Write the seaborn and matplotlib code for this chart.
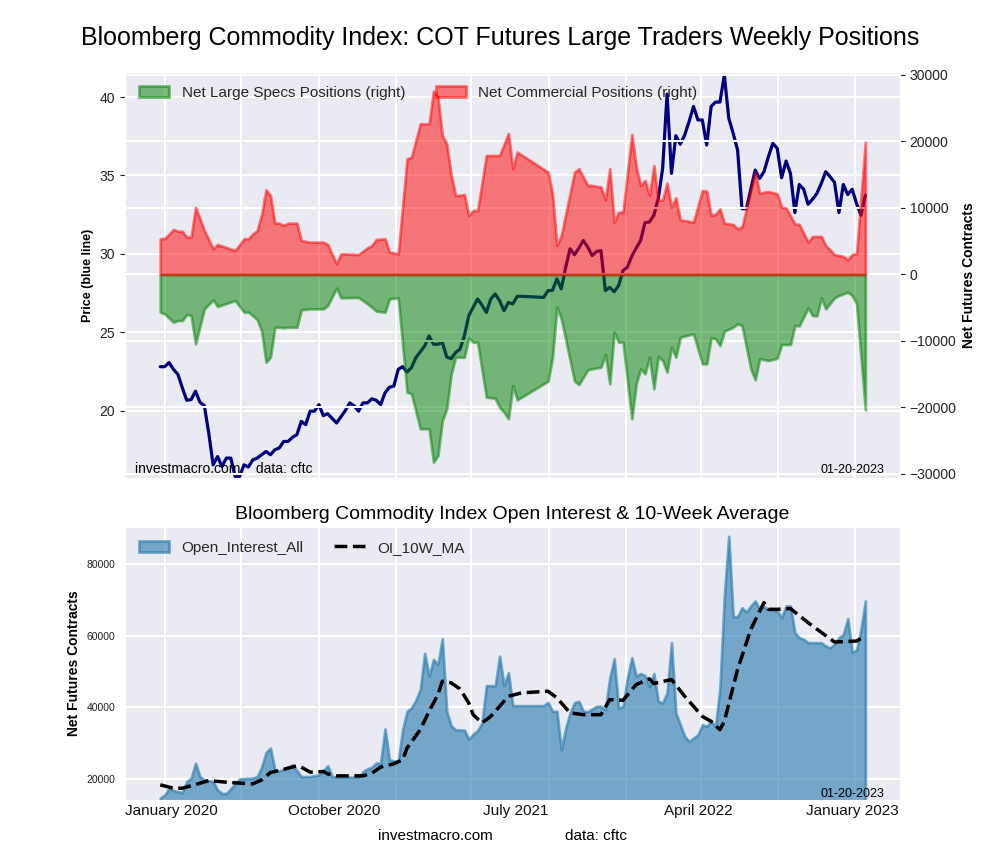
import numpy as np
import pandas as pd
import matplotlib.pyplot as plt
import matplotlib.ticker as mticker
import seaborn as sns

# weekly report dates, counted in weeks from 2019-12-24
start = pd.Timestamp("2019-12-24")

# -------------------------------------------------------
# data
# -------------------------------------------------------
price_weeks = [0, 1, 2, 3, 4, 5, 6, 7, 8, 9, 10, 11, 12, 13, 14, 15, 16, 17, 18, 19, 20, 21, 22, 24, 25,
               26, 27, 28, 29, 30, 31, 32, 33, 34, 35, 36, 37, 38, 40, 41, 42, 43, 44, 45, 46, 47, 48, 49,
               50, 51, 52, 53, 54, 55, 56, 57, 58, 60, 61, 62, 63, 64, 65, 66, 67, 68, 69, 70, 71, 72, 73,
               74, 75, 76, 77, 78, 79, 80, 81, 82, 87, 88, 89, 90, 91, 92, 93, 94, 95, 96, 97, 98, 99, 100,
               101, 102, 103, 104, 105, 106, 107, 108, 109, 110, 111, 112, 113, 114, 115, 116, 117, 118,
               119, 120, 121, 122, 123, 124, 125, 126, 127, 128, 129, 130, 131, 132, 133, 134, 135, 136,
               137, 138, 139, 140, 141, 142, 143, 144, 145, 146, 147, 148, 149, 150, 151, 152, 153, 154,
               155, 156, 157, 158, 159, 160]
price = [22.80, 22.80, 23.06, 22.63, 22.31, 21.46, 20.66, 20.70, 21.24, 20.53, 20.32, 18.57, 16.54, 17.07,
         16.43, 16.97, 16.97, 15.79, 15.79, 16.54, 16.40, 16.86, 16.97, 17.39, 17.18, 17.50, 17.61, 18.03,
         18.03, 18.30, 18.46, 19.31, 19.10, 19.96, 19.96, 20.38, 19.68, 19.80, 19.21, 19.60, 20.00, 20.49,
         20.30, 19.96, 20.49, 20.49, 20.75, 20.66, 20.38, 21.13, 21.49, 21.56, 22.63, 22.80, 22.46, 22.74,
         23.38, 24.12, 24.76, 24.23, 24.23, 24.36, 23.42, 23.31, 23.70, 23.91, 24.76, 26.05, 26.58, 27.12,
         26.73, 26.26, 27.12, 27.44, 27.01, 26.37, 26.90, 26.80, 27.29, 27.29, 27.22, 27.65, 27.67, 28.40,
         27.76, 29.15, 30.32, 29.94, 30.37, 30.85, 30.43, 29.89, 30.15, 30.21, 27.65, 27.86, 27.58, 27.97,
         28.93, 29.15, 29.85, 30.37, 30.85, 31.99, 32.03, 32.46, 33.53, 35.45, 40.19, 35.13, 37.54, 36.99,
         37.58, 38.44, 39.40, 38.54, 38.54, 36.94, 39.40, 39.68, 39.68, 41.39, 38.65, 37.69, 36.62, 32.88,
         32.88, 34.12, 35.34, 34.81, 35.24, 36.20, 37.05, 36.73, 34.85, 35.92, 35.13, 32.63, 34.42, 34.12,
         33.16, 33.48, 33.85, 34.49, 35.24, 34.92, 34.55, 32.63, 34.42, 33.78, 34.12, 33.21, 32.46, 33.74]

spec_weeks = [0, 1, 3, 4, 5, 6, 7, 8, 10, 12, 13, 17, 19, 20, 21, 22, 23, 24, 25, 26, 27, 28, 29, 31, 32,
              34, 37, 38, 40, 41, 45, 47, 48, 49, 51, 52, 54, 56, 57, 59, 61, 62, 63, 64, 65, 66, 67, 68,
              69, 70, 71, 72, 74, 76, 77, 78, 79, 80, 81, 88, 89, 90, 91, 94, 95, 97, 98, 100, 101, 102,
              103, 104, 105, 107, 108, 109, 110, 111, 112, 113, 114, 115, 116, 117, 118, 121, 123, 124,
              125, 126, 127, 128, 130, 131, 132, 134, 135, 136, 138, 140, 141, 143, 144, 145, 147, 148,
              149, 150, 151, 153, 154, 156, 157, 158, 160]
spec = [-5670, -5920, -7170, -6920, -6920, -6020, -6170, -10420, -5170, -3810, -4810, -3910, -5670, -5670,
        -6200, -6800, -8500, -13190, -12440, -7920, -7920, -8020, -7920, -7920, -5320, -5170, -5170, -4660,
        -2050, -3510, -3460, -4410, -4910, -5500, -5670, -3660, -3510, -17700, -17950, -23200, -23200,
        -28230, -27220, -21960, -20200, -15000, -12440, -12440, -12440, -9520, -10180, -10180, -18450,
        -18600, -19950, -20700, -21700, -16700, -18850, -16040, -12440, -4910, -6670, -16040, -16540,
        -14340, -14180, -13940, -12030, -16440, -8670, -10180, -10180, -21700, -16440, -14190, -14940,
        -12440, -17190, -12330, -12940, -14690, -10930, -12440, -9430, -8920, -13430, -13430, -9520,
        -9670, -10680, -8530, -7920, -7420, -7670, -14190, -15840, -12680, -12940, -12590, -10530, -10530,
        -7670, -7720, -5010, -6170, -6220, -3510, -5170, -3510, -3160, -2660, -3160, -4410, -20350]

comm_weeks = [0, 1, 3, 4, 5, 6, 7, 8, 10, 12, 13, 17, 19, 20, 21, 22, 23, 24, 25, 26, 27, 28, 29, 31, 32,
              34, 37, 38, 40, 41, 45, 47, 48, 49, 51, 52, 54, 56, 57, 59, 61, 62, 63, 64, 65, 66, 67, 68,
              69, 70, 71, 72, 74, 77, 79, 80, 81, 88, 89, 90, 91, 94, 95, 97, 98, 100, 101, 102, 103, 104,
              105, 107, 108, 109, 110, 111, 112, 113, 114, 115, 116, 117, 118, 121, 123, 124, 125, 126,
              127, 128, 130, 131, 132, 135, 136, 138, 140, 141, 142, 144, 145, 147, 148, 150, 151, 153,
              155, 156, 157, 158, 160]
comm = [5370, 5400, 6770, 6520, 6500, 5620, 5620, 10120, 6620, 3860, 4510, 3610, 5370, 5370, 6100, 6600,
        9000, 12740, 11880, 7720, 7720, 7370, 7720, 7720, 5110, 4860, 4860, 4510, 1600, 3110, 3010, 4010,
        4360, 5260, 5370, 3360, 3110, 17400, 17650, 22660, 22660, 27570, 26670, 20900, 19650, 15000, 11900,
        11900, 12030, 8870, 9630, 9630, 17900, 17900, 21200, 15900, 18400, 15390, 12130, 4360, 5870, 15390,
        15900, 13390, 13390, 13140, 11230, 15900, 7870, 9370, 9370, 21060, 16140, 13390, 14140, 11880,
        16390, 11130, 11200, 13740, 10120, 11530, 8220, 7870, 12630, 12530, 8870, 9020, 9870, 7720, 7520,
        6870, 7120, 15390, 12230, 12480, 12130, 10120, 10000, 7620, 7520, 4860, 5720, 5720, 4360, 3010,
        2710, 2210, 3010, 3110, 19900]

oi_weeks = [0, 1, 2, 3, 5, 6, 7, 8, 9, 10, 12, 13, 14, 15, 17, 18, 21, 22, 23, 24, 25, 26, 27, 29, 30, 32,
            34, 36, 37, 38, 39, 40, 45, 46, 47, 48, 49, 50, 51, 52, 53, 54, 55, 56, 57, 58, 59, 60, 61, 62,
            63, 64, 65, 66, 67, 69, 70, 71, 72, 73, 74, 76, 77, 78, 79, 80, 87, 88, 89, 90, 91, 92, 93, 94,
            95, 96, 97, 99, 100, 101, 102, 103, 104, 105, 106, 107, 108, 109, 110, 111, 112, 113, 114, 115,
            116, 117, 118, 119, 120, 121, 122, 123, 124, 125, 126, 127, 128, 129, 130, 131, 132, 133, 134,
            135, 136, 137, 138, 140, 141, 142, 143, 144, 145, 146, 147, 150, 151, 152, 153, 154, 155, 156,
            157, 158, 159, 160]
oi = [14590, 15510, 17390, 16720, 16160, 19240, 20200, 24400, 20650, 19720, 19250, 16910, 15930, 15930,
      18600, 20000, 20200, 20650, 23280, 27390, 28600, 22520, 22150, 23280, 23930, 20650, 20650, 21120,
      22330, 23650, 20650, 20470, 20470, 22000, 22800, 23280, 24400, 24400, 33940, 25330, 25000, 25000,
      33750, 38880, 39830, 42000, 44970, 55060, 48700, 53380, 51980, 59180, 38880, 34870, 33750, 33610,
      31140, 32500, 33500, 35620, 46090, 46000, 54310, 46090, 49650, 40470, 40470, 41400, 38880, 38880,
      28130, 34220, 38500, 41300, 41680, 38880, 38790, 40280, 40280, 39350, 48250, 53580, 39830, 40280,
      48250, 53860, 48700, 49450, 48890, 45890, 49450, 41680, 41230, 44040, 58060, 38430, 35150, 31870,
      30460, 31420, 32340, 35150, 34690, 36070, 34690, 45440, 71140, 87800, 65350, 65350, 67820, 66650,
      68330, 69730, 67390, 68160, 67390, 66930, 65070, 68330, 68330, 60870, 59470, 59000, 58060, 58060,
      57120, 56650, 57590, 59470, 60400, 64790, 55430, 56000, 61790, 69730]

ma_weeks = [0, 3, 5, 9, 11, 16, 21, 23, 25, 27, 31, 32, 34, 37, 38, 40, 46, 48, 50, 53, 55, 56, 59, 61, 63,
            64, 66, 68, 70, 71, 73, 75, 77, 79, 82, 88, 90, 93, 96, 100, 102, 105, 108, 111, 112, 116, 119,
            123, 125, 127, 128, 131, 134, 137, 138, 140, 143, 147, 153, 158, 160]
ma = [18320, 17390, 17390, 18780, 19520, 18960, 18600, 19720, 21770, 22330, 23650, 23280, 21870, 22050,
      21400, 20840, 20840, 21590, 23280, 24210, 25330, 28610, 33750, 38880, 43560, 47290, 46840, 45150,
      41230, 37950, 35620, 37470, 40280, 43090, 44040, 44500, 42640, 38430, 37950, 37950, 42160, 41960,
      46370, 47960, 46650, 47770, 43090, 37470, 36070, 33750, 36070, 50580, 61790, 69270, 67390, 67390,
      67600, 63670, 58240, 58520, 59920]

tick_dates = ["2020-01-10", "2020-09-25", "2021-07-10", "2022-04-26", "2022-12-27"]
tick_labels = ["January 2020", "October 2020", "July 2021", "April 2022", "January 2023"]


def to_dates(weeks):
    return start + pd.to_timedelta(np.array(weeks) * 7, unit="D")


# -------------------------------------------------------
# figure
# -------------------------------------------------------
sns.set_style("darkgrid")
plt.rcParams["font.family"] = ["Liberation Sans", "DejaVu Sans"]
plt.rcParams["grid.linewidth"] = 1.5
plt.rcParams["ytick.color"] = "#222222"
plt.rcParams["xtick.color"] = "#111111"

fig = plt.figure(figsize=(10, 8.6), dpi=100)
ax = fig.add_axes([0.125, 0.4442, 0.775, 0.4721])
ax3 = fig.add_axes([0.125, 0.0698, 0.775, 0.3174], sharex=ax)

fig.text(0.5, 1 - 38 / 860, "Bloomberg Commodity Index: COT Futures Large Traders Weekly Positions",
         ha="center", va="center", fontsize=18, color="black")

# 1. Price + net positions
sns.lineplot(x=to_dates(price_weeks), y=price, ax=ax, color="navy", lw=2.3)
ax.set_ylim(15.7, 41.6)
ax.set_xlabel("")
ax.set_ylabel("Price (blue line)", fontweight="bold", fontsize=9, color="black")
ax.tick_params(axis="y", labelsize=10)
ax.tick_params(axis="x", which="both", labelbottom=False)

ax2 = ax.twinx()
ax2.fill_between(to_dates(spec_weeks), spec, 0, color="green", alpha=0.5, lw=2,
                 label="Net Large Specs Positions (right)")
ax2.fill_between(to_dates(comm_weeks), comm, 0, color="red", alpha=0.5, lw=2,
                 label="Net Commercial Positions (right)")
ax2.set_ylim(-30600, 30450)
ax2.set_yticks(range(-30000, 30001, 10000))
ax2.tick_params(axis="y", labelsize=10)
ax2.set_ylabel("Net Futures Contracts", fontweight="bold", fontsize=10, color="black")
ax2.legend(loc="upper left", ncol=2, frameon=False, fontsize=11)

ax.text(0.013, 0.012, "investmacro.com    data: cftc", transform=ax.transAxes, fontsize=10, color="black")
ax.text(0.98, 0.012, "01-20-2023", transform=ax.transAxes, fontsize=9, ha="right", color="black")

# 2. Open interest
ax3.fill_between(to_dates(oi_weeks), oi, 0, color="#2479ad", alpha=0.6, lw=2,
                 label="Open_Interest_All")
sns.lineplot(x=to_dates(ma_weeks), y=ma, ax=ax3, color="black", linestyle="--", lw=2.5,
             label="OI_10W_MA")
ax3.set_ylim(14100, 90400)
ax3.set_yticks([20000, 40000, 60000, 80000])
ax3.set_title("Bloomberg Commodity Index Open Interest & 10-Week Average", fontsize=14, color="black")
ax3.set_ylabel("Net Futures Contracts", fontweight="bold", fontsize=10, color="black")
ax3.tick_params(axis="y", labelsize=7.5)
ax3.legend(loc="upper left", ncol=2, frameon=False, fontsize=11)
ax3.text(0.98, 0.012, "01-20-2023", transform=ax3.transAxes, fontsize=9, ha="right", color="black")

ax3.set_xlim(pd.Timestamp("2019-10-29"), pd.Timestamp("2023-03-13"))
grid_dates = pd.date_range("2020-01-01", "2023-01-01", freq="4MS")
ax3.set_xticks(grid_dates)
ax3.xaxis.set_major_formatter(mticker.NullFormatter())
ax3.set_xticks(pd.to_datetime(tick_dates), minor=True)
ax3.set_xticklabels(tick_labels, minor=True, fontsize=11)
ax3.tick_params(axis="x", which="minor", pad=1)
ax3.set_xlabel("")

fig.text(0.435, 1 - 836 / 860, "investmacro.com", ha="center", va="center", fontsize=11, color="black")
fig.text(0.596, 1 - 836 / 860, "data: cftc", ha="center", va="center", fontsize=11, color="black")

fig.savefig("out.png", dpi=100)
plt.close()
